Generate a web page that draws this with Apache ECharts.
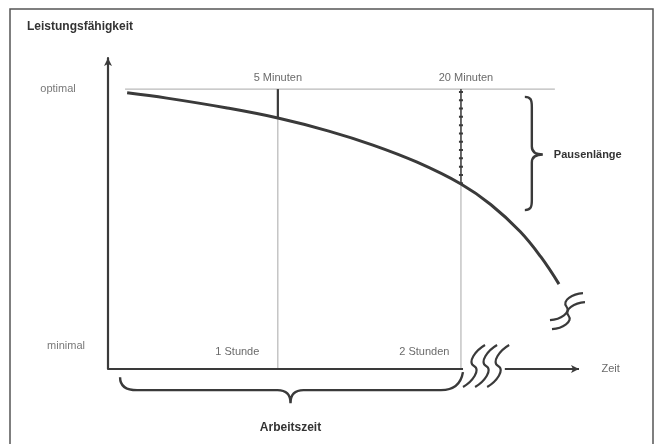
<!DOCTYPE html>
<html>
<head>
<meta charset="utf-8">
<script src="https://cdn.jsdelivr.net/npm/echarts@6/dist/echarts.min.js"></script>
<style>
  html, body { margin: 0; padding: 0; background: #fff; }
  #chart { width: 655px; height: 444px; }
</style>
</head>
<body>
<div id="chart"></div>
<script>
// Zeit in Minuten (x), Leistungsfähigkeit 0..100 (y)
var curveX = [6.5, 20, 40, 57.7, 75, 90, 105, 119.9, 130, 140, 147, 153.2]
var curveY = [88.8, 87.1, 84.0, 80.7, 76.5, 72.0, 66.5, 59.5, 52.9, 44.2, 36.1, 27.3]

var levelNames = ['optimal', 'minimal']
var levelValues = [90, 7.4]
var optimalSpan = [5.8, 151.8]

var markerX = [57.7, 119.9]
var hourLabels = ['1 Stunde', '2 Stunden']
var pauseLabels = ['5 Minuten', '20 Minuten']
var pauseEnd = [80.7, 59.5]

var axisBreak = [120.6, 134.8]
var squiggleX = [120.6, 124.7, 128.8]
var xMax = 160
var yMax = 100

var arbeitszeitSpan = [4.1, 119.9]
var arbeitszeitY = -6.8
var pauseBraceX = 141.6
var pauseBraceSpan = [87.5, 51.1]

var FONT = '"Liberation Sans", Arial, sans-serif'
var DARK = '#3a3a3a'
var GREY = '#a8a8a8'

function sPath(x1, y1, x2, y2, w) {
  var mx = (x1 + x2) / 2
  var my = (y1 + y2) / 2
  var dx = x2 - x1
  var dy = y2 - y1
  var len = Math.sqrt(dx * dx + dy * dy)
  var nx = -dy / len * w
  var ny = dx / len * w
  return 'M' + x1 + ' ' + y1 +
    ' C' + (x1 + dx * 0.2 + nx) + ' ' + (y1 + dy * 0.2 + ny) + ' ' + (mx + nx * 1.3) + ' ' + (my + ny * 1.3) + ' ' + mx + ' ' + my +
    ' C' + (mx - nx * 1.3) + ' ' + (my - ny * 1.3) + ' ' + (x2 - dx * 0.2 - nx) + ' ' + (y2 - dy * 0.2 - ny) + ' ' + x2 + ' ' + y2
}

var chart = echarts.init(document.getElementById('chart'))

var curveData = curveX.map(function(x, i) { return [x, curveY[i]] })

var series = [
  {
    // optimal-Linie
    type: 'line',
    data: [[optimalSpan[0], levelValues[0]], [optimalSpan[1], levelValues[0]]],
    symbol: 'none',
    lineStyle: { color: GREY, width: 1 },
    z: 1
  }
]

markerX.forEach(function(x, i) {
  // dünne Hilfslinie bis zur Zeitachse
  series.push({
    type: 'line',
    data: [[x, levelValues[0]], [x, 0]],
    symbol: 'none',
    lineStyle: { color: GREY, width: 1 },
    z: 1
  })
  // Pausenlänge
  series.push({
    type: 'line',
    data: [[x, levelValues[0]], [x, pauseEnd[i]]],
    symbol: 'none',
    lineStyle: { color: DARK, width: i === 0 ? 2.2 : 1.4 },
    z: 3
  })
})

// Perlen auf der 20-Minuten-Linie
series.push({
  type: 'line',
  data: [[markerX[1], levelValues[0] - 0.6], [markerX[1], pauseEnd[1]]],
  symbol: 'none',
  lineStyle: { color: DARK, width: 4, type: [2, 6.3] },
  z: 3
})

series.push({
  name: 'Leistungsfähigkeit',
  type: 'line',
  data: curveData,
  smooth: 0.4,
  symbol: 'none',
  lineStyle: { color: DARK, width: 3 },
  z: 4
})

// Zeitachse mit Unterbrechung
series.push({
  type: 'line',
  data: [[0, 0], [axisBreak[0], 0]],
  symbol: 'none',
  lineStyle: { color: DARK, width: 2.2 },
  z: 5,
  markLine: {
    silent: true,
    symbol: ['none', 'arrow'],
    symbolSize: [6, 8],
    label: { show: false },
    lineStyle: { color: DARK, width: 2, type: 'solid' },
    data: [[{ coord: [axisBreak[1], 0] }, { coord: [xMax, 0] }]]
  }
})

// Beschriftungen
var labelData = []
levelNames.forEach(function(n, i) {
  labelData.push({
    value: [0, levelValues[i]], name: n,
    label: { position: 'inside', offset: [i === 0 ? -50 : -42, 0], color: '#555' }
  })
})
pauseLabels.forEach(function(n, i) {
  labelData.push({
    value: [markerX[i], levelValues[0]], name: n,
    label: { position: 'top', distance: 5, offset: [i === 0 ? 0 : 5, 0] }
  })
})
hourLabels.forEach(function(n, i) {
  labelData.push({
    value: [markerX[i], 0], name: n,
    label: { position: 'left', distance: i === 0 ? 18 : 11, offset: [0, -17] }
  })
})
labelData.push({
  value: [xMax, 0], name: 'Zeit',
  label: { position: 'right', distance: 22 }
})

series.push({
  type: 'scatter',
  data: labelData,
  symbolSize: 1,
  itemStyle: { color: 'rgba(0,0,0,0)' },
  silent: true,
  label: {
    show: true,
    formatter: '{b}',
    fontFamily: FONT,
    fontSize: 11,
    color: '#444'
  },
  z: 6
})

// Klammer Arbeitszeit
series.push({
  type: 'custom',
  data: [[arbeitszeitSpan[0], arbeitszeitSpan[1], arbeitszeitY]],
  silent: true,
  renderItem: function(params, api) {
    var a = api.coord([api.value(0), api.value(2)])
    var b = api.coord([api.value(1), api.value(2)])
    var y = a[1]
    var x1 = a[0]
    var x2 = b[0]
    var m = (x1 + x2) / 2
    var d = 'M' + x1 + ' ' + (y - 13) +
      ' C' + x1 + ' ' + (y - 4) + ' ' + (x1 + 6) + ' ' + y + ' ' + (x1 + 17) + ' ' + y +
      ' L' + (m - 13) + ' ' + y +
      ' C' + (m - 5) + ' ' + y + ' ' + m + ' ' + (y + 4) + ' ' + m + ' ' + (y + 13) +
      ' C' + m + ' ' + (y + 4) + ' ' + (m + 5) + ' ' + y + ' ' + (m + 13) + ' ' + y +
      ' L' + (x2 - 20) + ' ' + y +
      ' C' + (x2 - 8) + ' ' + y + ' ' + x2 + ' ' + (y - 6) + ' ' + (x2 + 2) + ' ' + (y - 18)
    return {
      type: 'group',
      children: [
        { type: 'path', shape: { pathData: d }, style: { fill: 'none', stroke: DARK, lineWidth: 2.4 } },
        { type: 'text', style: { text: 'Arbeitszeit', x: m, y: y + 38, align: 'center', verticalAlign: 'middle', font: 'bold 12px ' + FONT, fill: '#333' } }
      ]
    }
  },
  z: 5
})

// Klammer Pausenlänge
series.push({
  type: 'custom',
  data: [[pauseBraceX, pauseBraceSpan[0], pauseBraceSpan[1]]],
  silent: true,
  renderItem: function(params, api) {
    var p1 = api.coord([api.value(0), api.value(1)])
    var p2 = api.coord([api.value(0), api.value(2)])
    var x = p1[0]
    var t = p1[1]
    var b = p2[1]
    var m = (t + b) / 2 + 1
    var d = 'M' + x + ' ' + t +
      ' C' + (x + 6) + ' ' + t + ' ' + (x + 7) + ' ' + (t + 3) + ' ' + (x + 7) + ' ' + (t + 10) +
      ' L' + (x + 7) + ' ' + (m - 8) +
      ' C' + (x + 7) + ' ' + (m - 3) + ' ' + (x + 11) + ' ' + m + ' ' + (x + 18) + ' ' + m +
      ' C' + (x + 11) + ' ' + m + ' ' + (x + 7) + ' ' + (m + 3) + ' ' + (x + 7) + ' ' + (m + 8) +
      ' L' + (x + 7) + ' ' + (b - 10) +
      ' C' + (x + 7) + ' ' + (b - 3) + ' ' + (x + 6) + ' ' + b + ' ' + x + ' ' + b
    return {
      type: 'group',
      children: [
        { type: 'path', shape: { pathData: d }, style: { fill: 'none', stroke: DARK, lineWidth: 2.4 } },
        { type: 'text', style: { text: 'Pausenlänge', x: x + 29, y: m, align: 'left', verticalAlign: 'middle', font: 'bold 11px ' + FONT, fill: '#333' } }
      ]
    }
  },
  z: 5
})

// Unterbrechungszeichen auf der Zeitachse
series.push({
  type: 'custom',
  data: squiggleX.map(function(x) { return [x, 0] }),
  silent: true,
  renderItem: function(params, api) {
    var p = api.coord([api.value(0), api.value(1)])
    return {
      type: 'path',
      shape: { pathData: sPath(p[0], p[1] + 18, p[0] + 22, p[1] - 24, 6) },
      style: { fill: 'none', stroke: DARK, lineWidth: 2.2 }
    }
  },
  z: 5
})

// Unterbrechungszeichen am Kurvenende
series.push({
  type: 'custom',
  data: [curveData[curveData.length - 1]],
  silent: true,
  renderItem: function(params, api) {
    var p = api.coord([api.value(0), api.value(1)])
    return {
      type: 'group',
      children: [
        { type: 'path', shape: { pathData: sPath(p[0] - 9, p[1] + 36, p[0] + 24, p[1] + 9, 6) }, style: { fill: 'none', stroke: DARK, lineWidth: 2.2 } },
        { type: 'path', shape: { pathData: sPath(p[0] - 7, p[1] + 45, p[0] + 26, p[1] + 18, 6) }, style: { fill: 'none', stroke: DARK, lineWidth: 2.2 } }
      ]
    }
  },
  z: 5
})

chart.setOption({
  animation: false,
  backgroundColor: '#fff',
  title: {
    text: 'Leistungsfähigkeit',
    left: 27,
    top: 21,
    padding: 0,
    textStyle: { fontFamily: FONT, fontSize: 12, fontWeight: 'bold', color: '#333' }
  },
  graphic: [
    {
      type: 'rect',
      silent: true,
      shape: { x: 10, y: 9, width: 643, height: 470 },
      style: { fill: 'none', stroke: '#555', lineWidth: 1.5 }
    }
  ],
  grid: {
    left: 108,
    top: 58,
    right: 76,
    bottom: 75,
    containLabel: false,
    outerBoundsMode: 'none'
  },
  xAxis: {
    type: 'value',
    min: 0,
    max: xMax,
    axisLine: { show: false },
    axisTick: { show: false },
    axisLabel: { show: false },
    splitLine: { show: false }
  },
  yAxis: {
    type: 'value',
    min: 0,
    max: yMax,
    axisLine: { show: true, symbol: ['none', 'arrow'], symbolSize: [6, 8], lineStyle: { color: DARK, width: 2.2 } },
    axisTick: { show: false },
    axisLabel: { show: false },
    splitLine: { show: false }
  },
  series: series
})
</script>
</body>
</html>
